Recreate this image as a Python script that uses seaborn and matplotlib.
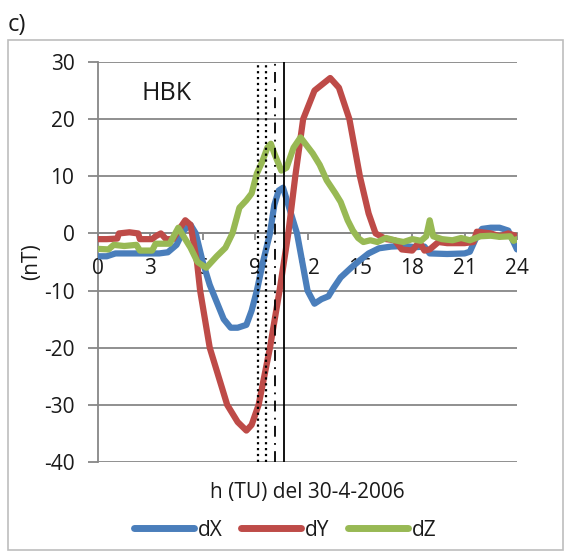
import matplotlib
matplotlib.use("Agg")
import matplotlib.pyplot as plt
import numpy as np
import pandas as pd
import seaborn as sns
from matplotlib.patches import Rectangle

# ---------------- data ----------------
hours_dx = [0, 0.5, 1, 1.5, 2, 2.5, 3, 3.5, 4, 4.5, 4.9, 5.3, 5.6, 6, 6.4, 6.8, 7.2, 7.6,
            8, 8.5, 8.8, 9.1, 9.45, 9.85, 10.1, 10.35, 10.6, 10.9, 11.4, 12, 12.4, 12.8,
            13.2, 13.5, 13.9, 14.5, 15, 15.5, 16.1, 16.8, 17.5, 18.2, 18.7, 19, 20, 21,
            21.3, 21.7, 22, 22.5, 23, 23.5, 23.8, 24]
dx = [-4, -4, -3.5, -3.5, -3.5, -3.5, -3.5, -3.5, -3.3, -2, 0.5, 1.5, 0, -5, -9, -12, -15, -16.5,
      -16.5, -16, -13.5, -10, -5, 0, 5, 7.5, 8, 5, 0, -10, -12.3, -11.5,
      -11, -9.5, -7.7, -6, -4.7, -3.5, -2.6, -2.3, -2.2, -2.4, -2.3, -3.5, -3.6, -3.5,
      -3.2, -0.5, 0.8, 1, 1, 0.5, -1.5, -2.8]

hours_dy = [0, 0.5, 1.1, 1.2, 1.8, 2.3, 2.4, 3.1, 3.3, 3.6, 3.9, 4.3, 4.6, 5, 5.3, 5.67, 5.85,
            6.4, 7.4, 8, 8.5, 8.8, 9.2, 9.85, 10.4, 10.9, 11.3, 11.75, 12.4, 13.3, 13.8, 14.4,
            15, 15.5, 15.9, 16.5, 17, 17.4, 18, 18.4, 18.7, 19, 19.5, 20, 21, 21.5, 21.7,
            22.5, 23, 23.5, 24]
dy = [-1, -1, -0.9, 0, 0.2, 0, -1, -1, -0.5, 0, -1, -1, 0.5, 2.3, 1.5, -5, -10,
      -20, -30, -33, -34.5, -33.5, -30, -20, -10, 0, 10, 20, 25, 27.2, 25.5, 20,
      10, 3.5, 0, -1, -1.2, -2.8, -3, -1.5, -3, -2.8, -1.5, -1.7, -1.7, -1.5, 0.3,
      0, -0.5, 0, -0.5]

hours_dz = [0, 0.6, 0.9, 1.5, 2.2, 2.4, 3.1, 3.3, 4.1, 4.6, 5.3, 5.7, 6.2, 6.8, 7.3, 7.7, 8.1,
            8.5, 8.8, 9.1, 9.4, 9.7, 9.9, 10.1, 10.5, 10.8, 11.2, 11.6, 12.3, 12.7, 13.1,
            13.6, 13.9, 14.3, 14.6, 14.9, 15.2, 15.6, 16, 16.5, 17, 17.5, 18, 18.5, 18.8,
            19, 19.2, 19.7, 20.3, 20.8, 21.3, 21.9, 22.5, 23, 23.6, 23.8, 24]
dz = [-2.7, -2.8, -2, -2.2, -2, -3, -3, -1.8, -1.8, 1, -2.5, -5, -6, -4, -2.5, 0, 4.5,
      5.8, 7, 10.5, 12.5, 15, 15.7, 14, 11, 11.5, 15, 16.8, 14, 12, 9.3,
      7, 5.5, 2.3, 0.5, -0.8, -1.5, -1.2, -1.5, -0.8, -1.2, -1.5, -1, -1.3, -0.5,
      2.3, -0.5, -1, -1.2, -0.8, -1.2, -0.5, -0.4, -0.6, -0.5, -1.3, -1]

series_names = ["dX", "dY", "dZ"]
series_colors = ["#4A7EBB", "#BE4B48", "#98B954"]
x_ticks = [0, 3, 6, 9, 12, 15, 18, 21, 24]
y_ticks = [-40, -30, -20, -10, 0, 10, 20, 30]
dotted_hours = [9.15, 9.6]
dashdot_hours = [10.15]
solid_hours = [10.65]
station = "HBK"
panel_label = "c)"
x_label = "h (TU) del 30-4-2006"
y_label = "(nT)"

# ---------------- style ----------------
sns.set_theme(style="white")
plt.rcParams['font.family'] = ['Open Sans', 'DejaVu Sans']
plt.rcParams['axes.unicode_minus'] = False
text_color = "#1a1a1a"
grid_color = "#878787"

df = pd.concat([
    pd.DataFrame({"h": hours_dx, "v": dx, "comp": "dX"}),
    pd.DataFrame({"h": hours_dy, "v": dy, "comp": "dY"}),
    pd.DataFrame({"h": hours_dz, "v": dz, "comp": "dZ"}),
], ignore_index=True)

W, H = 565, 552
fig = plt.figure(figsize=(W / 100, H / 100), dpi=100)
fig.patch.set_facecolor("white")
ax = fig.add_axes([98 / W, 90 / H, 419 / W, 400 / H])

sns.lineplot(data=df, x="h", y="v", hue="comp", hue_order=series_names,
             palette=dict(zip(series_names, series_colors)), sort=False,
             estimator=None, lw=4.5, ax=ax, zorder=2)

ax.set_xlim(0, 24)
ax.set_ylim(-40, 30)
ax.set_xticks(x_ticks)
ax.set_yticks(y_ticks)
ax.set_axisbelow(True)
ax.yaxis.grid(True, color=grid_color, lw=1.3)
ax.xaxis.grid(False)

for s in ["top", "right"]:
    ax.spines[s].set_visible(False)
ax.spines["bottom"].set_position(("data", 0))
for s in ["bottom", "left"]:
    ax.spines[s].set_color(grid_color)
    ax.spines[s].set_linewidth(1.3)
    ax.spines[s].set_zorder(0.5)

ax.tick_params(axis="y", length=7, width=1.3, color=grid_color, direction="out",
               labelsize=15, pad=10, labelcolor=text_color, left=True)
ax.tick_params(axis="x", length=5, width=1.3, color=grid_color, direction="out",
               labelsize=15, pad=13, labelcolor=text_color, bottom=True)

for xv in dotted_hours:
    ax.axvline(xv, color="black", lw=1.6, ls=":", zorder=3)
for xv in dashdot_hours:
    ax.axvline(xv, color="black", lw=1.3, ls=(0, (6, 3.5, 1, 3.5)), zorder=3)
for xv in solid_hours:
    ax.axvline(xv, color="black", lw=1.3, ls="-", zorder=3)

ax.text(0.105, 0.9225, station, transform=ax.transAxes, va="center", ha="left",
        fontsize=18, color=text_color)

ax.set_xlabel(x_label, fontsize=15, color=text_color)
ax.xaxis.set_label_coords(0.5, -0.05)
ax.set_ylabel(y_label, fontsize=15, color=text_color)
ax.yaxis.set_label_coords(-0.134, 0.5)

handles, labels = ax.get_legend_handles_labels()
if ax.get_legend() is not None:
    ax.get_legend().remove()
leg = fig.legend(handles, labels, loc="center", bbox_to_anchor=(285 / W, 22 / H),
                 ncol=3, frameon=False, fontsize=15, handlelength=2.9,
                 handletextpad=0.15, columnspacing=0.9)
for h in leg.legend_handles:
    h.set_linewidth(5)
for t in leg.get_texts():
    t.set_color(text_color)

fig.text(8 / W, 1 - 37 / H, panel_label, fontsize=17, ha="left", va="bottom",
         color=text_color)
fig.patches.append(Rectangle((8 / W, 2 / H), 555 / W, 510 / H, transform=fig.transFigure,
                             fill=False, ec="#BDBDBD", lw=1.2))

fig.savefig("out.png", dpi=100, facecolor="white")
